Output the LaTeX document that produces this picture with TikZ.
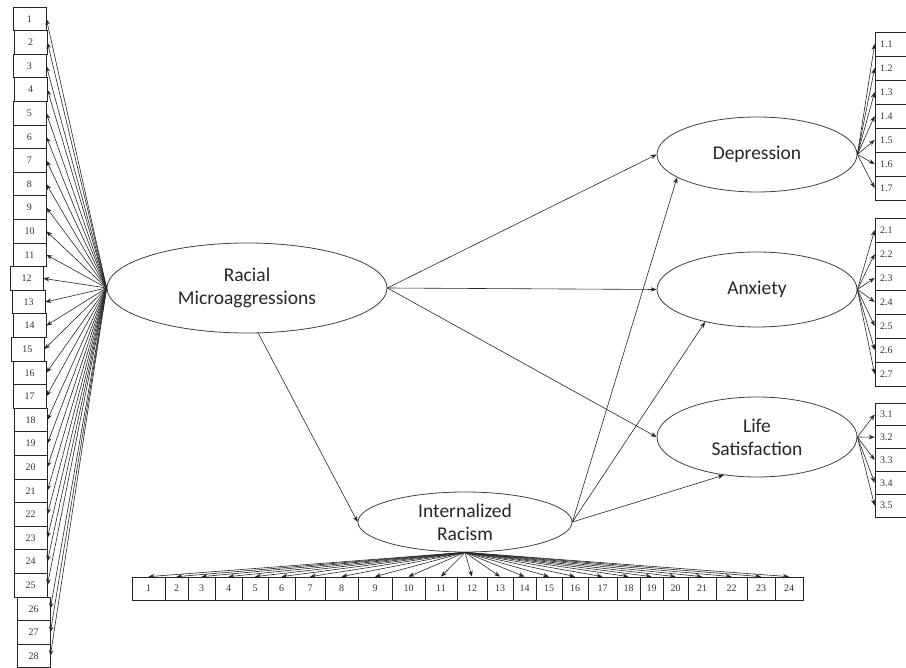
\documentclass[tikz,border=0pt]{standalone}
\usepackage{fontspec}
\setmainfont{Liberation Serif}
\newfontfamily\calfont{Carlito}
\usetikzlibrary{arrows.meta,shapes.geometric}
\begin{document}
\begin{tikzpicture}[x=1pt,y=-1pt,
  lat/.style={draw=black!75, line width=0.8pt, ellipse, inner sep=0pt,
    font=\calfont\fontsize{19.5}{23}\selectfont, text=black!85, align=center},
  obs/.style={draw=black!85, line width=0.7pt, inner sep=0pt,
    font=\fontsize{10}{11}\selectfont, text=black!80},
  arr/.style={-{Stealth[length=6pt,width=4.5pt]}, line width=0.6pt, draw=black!85}]
\useasboundingbox (0,0) rectangle (906,668);
% latent variables
\node[lat, minimum width=280pt, minimum height=90pt] (rm) at (247,288) {Racial\\Microaggressions};
\node[lat, minimum width=200pt, minimum height=75pt] (dep) at (757,154.5) {Depression};
\node[lat, minimum width=200pt, minimum height=75pt] (anx) at (757,289.5) {Anxiety};
\node[lat, minimum width=200pt, minimum height=80pt] (life) at (757,437) {Life\\Satisfaction};
\node[lat, minimum width=214pt, minimum height=60pt] (ir) at (465,522) {Internalized\\Racism};
% left column indicators
\foreach \i/\l in {1/13,2/14,3/13,4/14,5/13,6/13,7/13,8/13,9/13,10/13,11/13,12/10,13/12,14/13,
                   15/11,16/13,17/13,18/14,19/14,20/14,21/14,22/14,23/14,24/14,25/14,26/17,27/17,28/17}{
  \pgfmathsetmacro\cx{\l+16.5}
  \pgfmathsetmacro\cy{18.8+(\i-1)*23.6}
  \node[obs, minimum width=33pt, minimum height=23.6pt] (L\i) at (\cx,\cy) {\i};
  \draw[arr] (rm.west) -- (L\i.east);
}
% bottom row indicators
\foreach \i/\a/\b in {1/132/165,2/165/188,3/188/215,4/215/242,5/242/268,6/268/295,7/295/325,
                      8/325/358,9/358/392,10/392/425,11/425/457,12/457/487,13/487/513,14/513/536,
                      15/536/562,16/562/588,17/588/617,18/617/640,19/640/663,20/663/688,
                      21/688/716,22/716/747,23/747/775,24/775/803}{
  \pgfmathsetmacro\w{\b-\a}
  \pgfmathsetmacro\cx{(\a+\b)/2}
  \node[obs, minimum width=\w pt, minimum height=23pt] (B\i) at (\cx,588.5) {\i};
  \draw[arr] (ir.south) -- (B\i.north);
}
% depression indicators
\foreach \j in {1,...,7}{
  \pgfmathsetmacro\cy{44+(\j-1)*24}
  \node[obs, minimum width=34pt, minimum height=24pt, text width=30pt, align=left] (D\j) at (892,\cy) {\hspace*{3pt}1.\j};
  \draw[arr] (dep.east) -- (D\j.west);
}
% anxiety indicators
\foreach \j in {1,...,7}{
  \pgfmathsetmacro\cy{230+(\j-1)*24}
  \node[obs, minimum width=34pt, minimum height=24pt, text width=30pt, align=left] (A\j) at (892,\cy) {\hspace*{3pt}2.\j};
  \draw[arr] (anx.east) -- (A\j.west);
}
% life satisfaction indicators
\foreach \j in {1,...,5}{
  \pgfmathsetmacro\cy{414.4+(\j-1)*22.8}
  \node[obs, minimum width=34pt, minimum height=22.8pt, text width=30pt, align=left] (S\j) at (892,\cy) {\hspace*{3pt}3.\j};
  \draw[arr] (life.east) -- (S\j.west);
}
% structural paths
\draw[arr] (rm.east) -- (dep.west);
\draw[arr] (rm.east) -- (anx.west);
\draw[arr] (rm.east) -- (life.west);
\draw[arr] (rm.284) -- (ir.west);
\draw[arr] (ir.east) -- (dep.196);
\draw[arr] (ir.east) -- (anx.212);
\draw[arr] (ir.east) -- (life.229);
\end{tikzpicture}
\end{document}
